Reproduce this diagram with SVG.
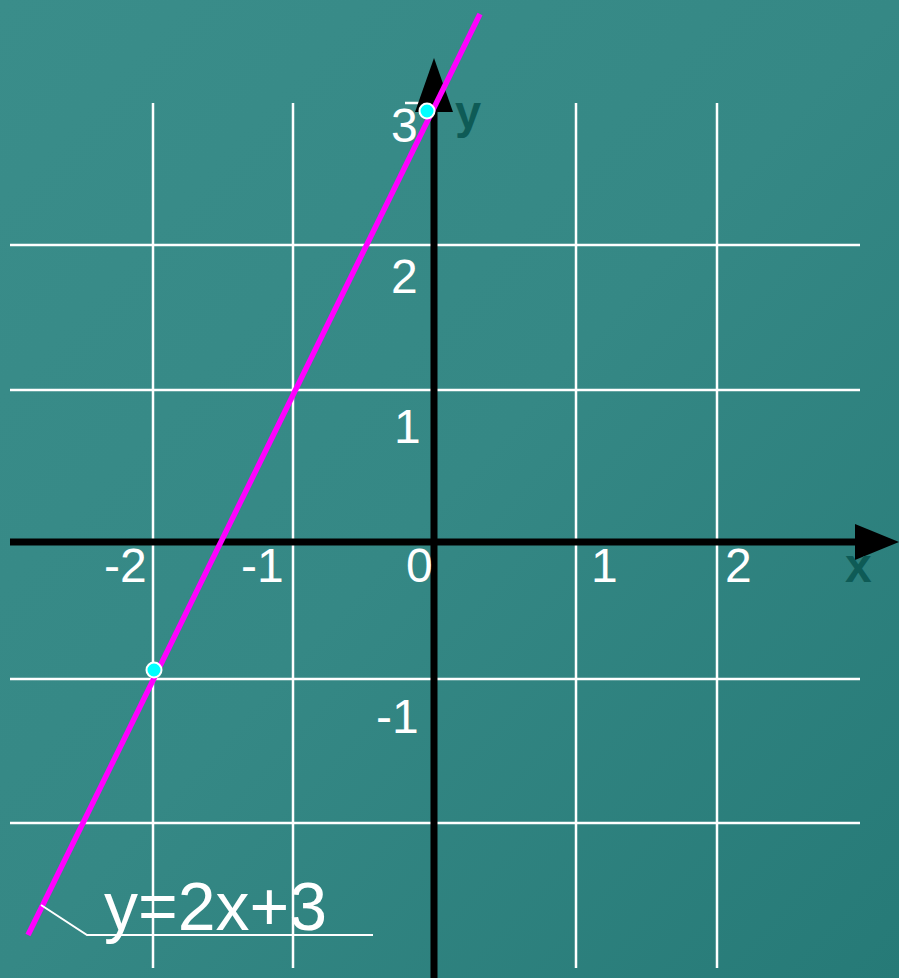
<svg xmlns="http://www.w3.org/2000/svg" width="899" height="978" viewBox="0 0 899 978">
<defs>
<linearGradient id="bg" x1="0" y1="0" x2="1" y2="1">
<stop offset="0" stop-color="#3a8d8a"/>
<stop offset="0.5" stop-color="#358885"/>
<stop offset="1" stop-color="#267a77"/>
</linearGradient>
<style>
.grid{stroke:#ffffff;stroke-width:2.5;fill:none}
.axis{stroke:#000000;stroke-width:7;fill:none}
.lbl{font-family:"Liberation Sans",Arial,sans-serif;font-size:48px;fill:#ffffff}
.ax{font-family:"Liberation Sans",Arial,sans-serif;font-weight:bold;fill:#0e5b56}
.pt{fill:#00ffff;stroke:#ffffff;stroke-width:2}
</style>
</defs>
<rect width="899" height="978" fill="url(#bg)"/>
<g id="grid">
<line class="grid" x1="153" y1="103" x2="153" y2="968"/>
<line class="grid" x1="293" y1="103" x2="293" y2="968"/>
<line class="grid" x1="576" y1="103" x2="576" y2="968"/>
<line class="grid" x1="717" y1="103" x2="717" y2="968"/>
<line class="grid" x1="10" y1="245" x2="860" y2="245"/>
<line class="grid" x1="10" y1="390" x2="860" y2="390"/>
<line class="grid" x1="10" y1="679" x2="860" y2="679"/>
<line class="grid" x1="10" y1="823" x2="860" y2="823"/>
<line class="grid" x1="405" y1="103" x2="434" y2="103"/>
</g>
<g id="axes">
<line class="axis" x1="10" y1="542" x2="860" y2="542"/>
<polygon points="899,542 855,524 855,560" fill="#000"/>
<line class="axis" x1="434" y1="978" x2="434" y2="105"/>
<polygon points="434,58 415,112 453,112" fill="#000"/>
<text class="ax" x="845" y="582" font-size="48">x</text>
<text class="ax" x="455" y="128" font-size="47">y</text>
</g>
<g id="labels">
<text class="lbl" x="391" y="142">3</text>
<text class="lbl" x="391" y="293">2</text>
<text class="lbl" x="394" y="443">1</text>
<text class="lbl" x="376" y="733">-1</text>
<text class="lbl" x="104" y="582">-2</text>
<text class="lbl" x="241" y="582">-1</text>
<text class="lbl" x="406" y="582">0</text>
<text class="lbl" x="591" y="582">1</text>
<text class="lbl" x="725" y="582">2</text>
</g>
<g id="connectors">
<line x1="28" y1="935" x2="480" y2="14" stroke="#ff00ff" stroke-width="5.5"/>
<polyline points="41,905 87,935 373,935" fill="none" stroke="#ffffff" stroke-width="2"/>
</g>
<g id="points">
<circle class="pt" cx="154" cy="670" r="7.5"/>
<circle class="pt" cx="427" cy="111" r="7.5"/>
</g>
<g id="equation">
<text x="104" y="930" font-family="Liberation Sans,Arial,sans-serif" font-size="68" fill="#ffffff">y=2x+3</text>
</g>
</svg>
